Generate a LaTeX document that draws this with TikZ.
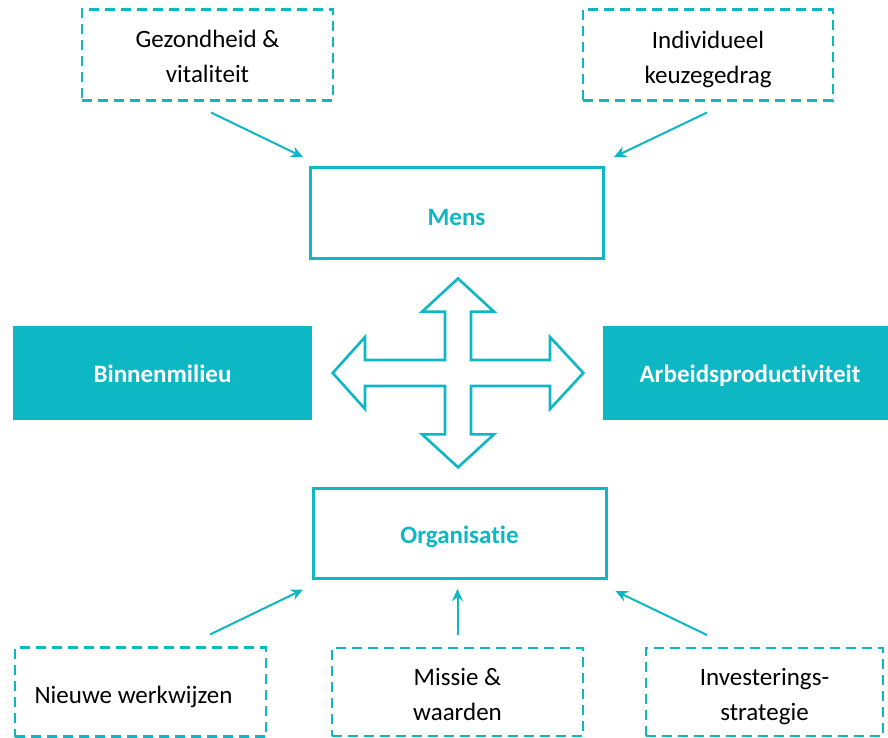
\documentclass[tikz,border=0pt]{standalone}
\usepackage{fontspec}
\setmainfont[RawFeature={-liga}]{Carlito}
\usetikzlibrary{arrows.meta}
\definecolor{teal1}{RGB}{14,183,196}
\tikzset{
  base/.style={font=\fontsize{25}{35}\selectfont, align=center, inner sep=0pt, anchor=center},
  dbox/.style={base, draw=teal1, line width=2.4pt, dash pattern=on 10pt off 6pt, text=black},
  sbox/.style={base, draw=teal1, line width=3pt, text=teal1, font=\fontsize{25}{35}\selectfont\bfseries},
  fbox/.style={base, fill=teal1, text=white, font=\fontsize{25}{35}\selectfont\bfseries},
  conn/.style={draw=teal1, line width=2pt, -{Stealth[length=12pt,width=11pt]}},
  crossarrow/.style={draw=teal1, line width=2.6pt, line join=miter, fill=white}
}
\begin{document}
\begin{tikzpicture}[x=1pt,y=-1pt]
\useasboundingbox (0,0) rectangle (888,738);
\begin{scope}
\clip (0,0) rectangle (888,738);
% dashed boxes
\node[dbox, minimum width=251pt, minimum height=91pt, text height=62pt, text depth=6pt] (gez) at (207.5,55) {Gezondheid \&\\vitaliteit};
\node[dbox, minimum width=250pt, minimum height=91pt, text height=62.6pt, text depth=6pt] (ind) at (708,55) {Individueel\\keuzegedrag};
\node[dbox, minimum width=251pt, minimum height=89pt, text height=29.2pt, text depth=6pt] (nieuw) at (140.5,692) {Nieuwe werkwijzen\hspace*{14pt}};
\node[dbox, minimum width=251pt, minimum height=88pt, text height=63.4pt, text depth=6pt] (missie) at (457.5,692) {Missie \&\\waarden};
\node[dbox, minimum width=237pt, minimum height=88pt, text height=63pt, text depth=6pt] (invest) at (764.5,692) {Investerings-\\strategie};
% solid boxes
\node[sbox, minimum width=293pt, minimum height=90pt, text height=30pt, text depth=6pt] (mens) at (456.5,213) {Mens};
\node[sbox, minimum width=293pt, minimum height=90pt, text height=26.6pt, text depth=6pt] (org) at (459.5,533) {Organisatie};
% filled boxes
\node[fbox, minimum width=299pt, minimum height=94pt, text height=24.6pt, text depth=6pt] (binnen) at (162.5,373) {Binnenmilieu};
\node[fbox, minimum width=294pt, minimum height=94pt, text height=24.6pt, text depth=6pt] (arbeid) at (750,373) {Arbeidsproductiviteit};
\end{scope}
% cross arrow
\draw[crossarrow] (458,278.5) -- (494,311.7) -- (471,311.7) -- (471,360) -- (550,360) -- (550,337)
  -- (583.3,373) -- (550,409) -- (550,386) -- (471,386) -- (471,434.3) -- (494,434.3)
  -- (458,467.3) -- (422,434.3) -- (445,434.3) -- (445,386) -- (365,386) -- (365,409)
  -- (332.7,373) -- (365,337) -- (365,360) -- (445,360) -- (445,311.7) -- (422,311.7) -- cycle;
% connector coordinates
\coordinate (a1s) at (211,112.5);
\coordinate (a1e) at (303,157);
\coordinate (a2s) at (707,112.5);
\coordinate (a2e) at (614,157);
\coordinate (b1s) at (210,634.5);
\coordinate (b1e) at (303,589.5);
\coordinate (b2s) at (457.5,634.5);
\coordinate (b2e) at (457.5,589);
\coordinate (b3s) at (707,635);
\coordinate (b3e) at (615.5,591);
\draw[conn] (a1s) -- (a1e);
\draw[conn] (a2s) -- (a2e);
\draw[conn] (b1s) -- (b1e);
\draw[conn] (b2s) -- (b2e);
\draw[conn] (b3s) -- (b3e);
\end{tikzpicture}
\end{document}
